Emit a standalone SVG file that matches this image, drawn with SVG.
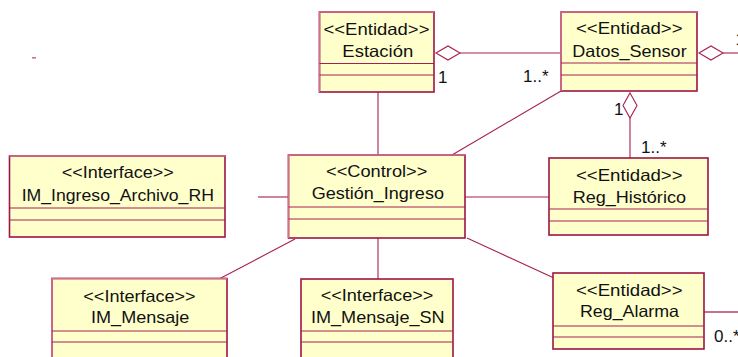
<svg xmlns="http://www.w3.org/2000/svg" width="738" height="357" viewBox="0 0 738 357">
<style>
.box{fill:#FFFFCC;stroke:#9E1446;stroke-width:1.6}
.hl{fill:none;stroke:#D0708E;stroke-width:1.6}
.div{stroke:#A32050;stroke-width:1.1}
.ln{fill:none;stroke:#A8204F;stroke-width:1.1}
.dia{fill:#FFFFFF;stroke:#A8204F;stroke-width:1.1}
.t{font-family:"Liberation Sans",Arial,sans-serif;font-size:16.5px;fill:#111111;text-anchor:middle}
.m{font-family:"Liberation Sans",Arial,sans-serif;font-size:17px;fill:#111111}
</style>
<rect x="32" y="57" width="4" height="1.6" fill="#D0708E"/>
<g id="connectors">
<line class="ln" x1="460" y1="53" x2="561" y2="53"/>
<polygon class="dia" points="436,53 448,46 460,53 448,60"/>
<line class="ln" x1="723" y1="53" x2="738" y2="53"/>
<polygon class="dia" points="699,53 711,46 723,53 711,60"/>
<line class="ln" x1="630" y1="118" x2="630" y2="158"/>
<polygon class="dia" points="630,93 637,105.5 630,118 623,105.5"/>
<line class="ln" x1="378" y1="92" x2="378" y2="155"/>
<line class="ln" x1="452" y1="155" x2="561" y2="91"/>
<line class="ln" x1="258" y1="197" x2="288" y2="197"/>
<line class="ln" x1="465" y1="197" x2="549" y2="197"/>
<line class="ln" x1="295" y1="239" x2="219" y2="279"/>
<line class="ln" x1="378" y1="238" x2="378" y2="279"/>
<line class="ln" x1="467" y1="238" x2="554" y2="278"/>
<line x1="704" y1="312" x2="738" y2="312" stroke="#C8708F" stroke-width="2"/>
<text class="m" x="438" y="83">1</text>
<text class="m" x="523" y="82">1..*</text>
<text class="m" x="614" y="115">1</text>
<text class="m" x="641" y="153">1..*</text>
<text class="m" x="714" y="342">0..*</text>
<text class="m" x="735.5" y="45">1..*</text>
</g>
<g id="Estacion">
<rect class="box" x="319.5" y="12" width="114.5" height="80"/>
<path class="hl" d="M319.5,92 V12 H434"/>
<line class="div" x1="319.5" y1="63.5" x2="434" y2="63.5"/>
<line class="div" x1="319.5" y1="75" x2="434" y2="75"/>
<text class="t" x="376.5" y="34.5" textLength="106" lengthAdjust="spacingAndGlyphs">&lt;&lt;Entidad&gt;&gt;</text>
<text class="t" x="377.8" y="56.7" textLength="71" lengthAdjust="spacingAndGlyphs">Estación</text>
</g>
<g id="Datos_Sensor">
<rect class="box" x="561" y="12" width="136" height="79"/>
<path class="hl" d="M561,91 V12 H697"/>
<line class="div" x1="561" y1="63" x2="697" y2="63"/>
<line class="div" x1="561" y1="75" x2="697" y2="75"/>
<text class="t" x="629.3" y="34.3" textLength="106.7" lengthAdjust="spacingAndGlyphs">&lt;&lt;Entidad&gt;&gt;</text>
<text class="t" x="629.5" y="56.7" textLength="114.3" lengthAdjust="spacingAndGlyphs">Datos_Sensor</text>
</g>
<g id="Reg_Historico">
<rect class="box" x="549" y="158" width="159" height="77"/>
<line class="div" x1="549" y1="209" x2="708" y2="209"/>
<line class="div" x1="549" y1="221" x2="708" y2="221"/>
<text class="t" x="629.3" y="180.7" textLength="106.7" lengthAdjust="spacingAndGlyphs">&lt;&lt;Entidad&gt;&gt;</text>
<text class="t" x="629.3" y="202.7" textLength="113.3" lengthAdjust="spacingAndGlyphs">Reg_Histórico</text>
</g>
<g id="IM_Ingreso_Archivo_RH">
<rect class="box" x="9.5" y="156" width="215.5" height="81"/>
<path class="hl" d="M225,156 H9.5"/>
<line class="div" x1="9.5" y1="208" x2="225" y2="208"/>
<line class="div" x1="9.5" y1="220" x2="225" y2="220"/>
<text class="t" x="117.7" y="177.7" textLength="112" lengthAdjust="spacingAndGlyphs">&lt;&lt;Interface&gt;&gt;</text>
<text class="t" x="117.8" y="201" textLength="192.3" lengthAdjust="spacingAndGlyphs">IM_Ingreso_Archivo_RH</text>
</g>
<g id="Gestion_Ingreso">
<rect class="box" x="288.5" y="155" width="176.5" height="83"/>
<path class="hl" d="M288.5,238 V155 H465"/>
<line class="div" x1="288.5" y1="207" x2="465" y2="207"/>
<line class="div" x1="288.5" y1="219" x2="465" y2="219"/>
<text class="t" x="376.7" y="177.3" textLength="101.3" lengthAdjust="spacingAndGlyphs">&lt;&lt;Control&gt;&gt;</text>
<text class="t" x="377.8" y="199.3" textLength="132.3" lengthAdjust="spacingAndGlyphs">Gestión_Ingreso</text>
</g>
<g id="IM_Mensaje">
<rect class="box" x="52" y="278.5" width="175" height="90"/>
<path class="hl" d="M52,368 V278.5 H227"/>
<line class="div" x1="52" y1="331" x2="227" y2="331"/>
<line class="div" x1="52" y1="342" x2="227" y2="342"/>
<text class="t" x="139.5" y="301.7" textLength="112.3" lengthAdjust="spacingAndGlyphs">&lt;&lt;Interface&gt;&gt;</text>
<text class="t" x="140.2" y="323.3" textLength="98.3" lengthAdjust="spacingAndGlyphs">IM_Mensaje</text>
</g>
<g id="IM_Mensaje_SN">
<rect class="box" x="301" y="279" width="152" height="90"/>
<line class="div" x1="301" y1="331" x2="453" y2="331"/>
<line class="div" x1="301" y1="342" x2="453" y2="342"/>
<text class="t" x="377" y="300.7" textLength="112.7" lengthAdjust="spacingAndGlyphs">&lt;&lt;Interface&gt;&gt;</text>
<text class="t" x="377.8" y="322.7" textLength="133.7" lengthAdjust="spacingAndGlyphs">IM_Mensaje_SN</text>
</g>
<g id="Reg_Alarma">
<rect class="box" x="553" y="273" width="151" height="76"/>
<line class="div" x1="553" y1="326" x2="704" y2="326"/>
<line class="div" x1="553" y1="337" x2="704" y2="337"/>
<text class="t" x="629.3" y="295.7" textLength="106.7" lengthAdjust="spacingAndGlyphs">&lt;&lt;Entidad&gt;&gt;</text>
<text class="t" x="629.5" y="317.3" textLength="99" lengthAdjust="spacingAndGlyphs">Reg_Alarma</text>
</g>
</svg>
